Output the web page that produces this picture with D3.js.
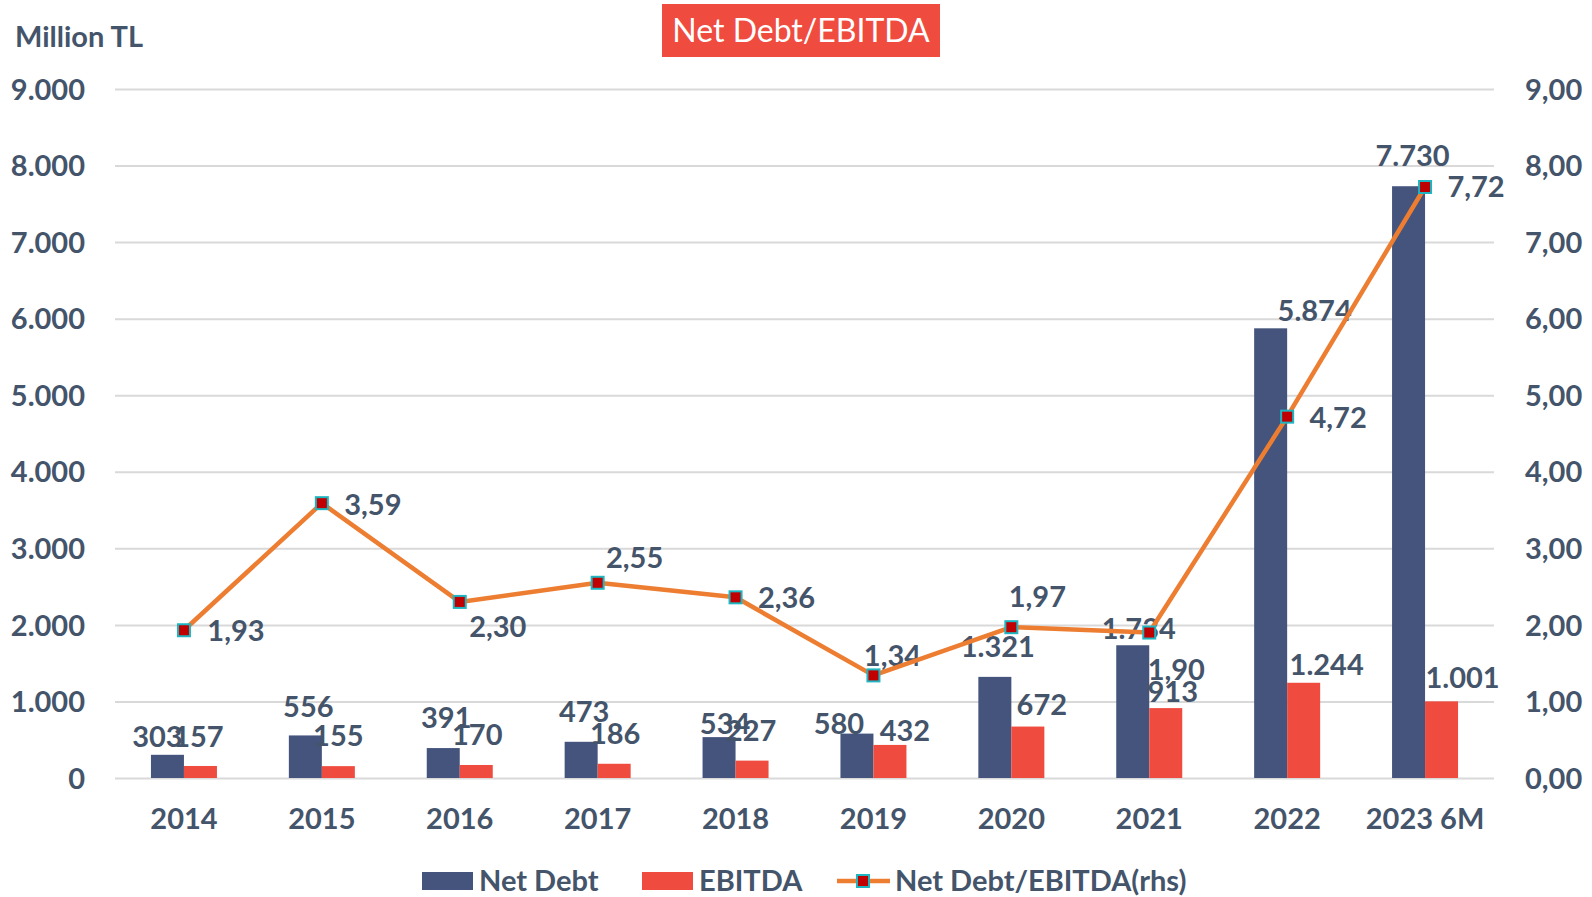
<!DOCTYPE html>
<html>
<head>
<meta charset="utf-8">
<script src="https://cdn.jsdelivr.net/npm/d3@7"></script>
<style>
  html, body { margin: 0; padding: 0; background: #ffffff; }
  svg { display: block; }
  text { font-family: Lato, "Open Sans", sans-serif; }
</style>
</head>
<body>
<svg id="chart" width="1592" height="897"></svg>
<script>
// Years / periods on the x axis
const categories = ["2014", "2015", "2016", "2017", "2018", "2019", "2020", "2021", "2022", "2023 6M"];
// Million TL
const netDebt = [303, 556, 391, 473, 534, 580, 1321, 1734, 5874, 7730];
const ebitda  = [157, 155, 170, 186, 227, 432, 672, 913, 1244, 1001];
// Net Debt / EBITDA multiple (right axis)
const ratio   = [1.93, 3.59, 2.30, 2.55, 2.36, 1.34, 1.97, 1.90, 4.72, 7.72];
// Axis ticks
const leftTicks  = [0, 1000, 2000, 3000, 4000, 5000, 6000, 7000, 8000, 9000];
const rightTicks = [0, 1, 2, 3, 4, 5, 6, 7, 8, 9];

// Hand placement of value labels (pixel nudges, label centre relative to bar top / marker)
const ndLabelDx = [-10, 3, 3, 3, 6, -18, 3, 6, 44, 4];
const ndLabelDy = [18, 29, 30, 30, 13, 10, 30, 16, 17, 30];
const ebLabelDx = [-2, 0, 1, 1, -1, 15, 14, 7, 23, 21];
const ebLabelDy = [29, 30, 30, 30, 30, 14, 22, 16, 18, 24];
const ratioLabelDx = [52, 51, 38, 37, 51, 19, 26, 27, 51, 51];
const ratioLabelDy = [1, 2, 25, -25, 1, -20, -30, 37, 1, 0];

const C_TEXT = "#44546A";
const C_ND = "#44547C";
const C_EB = "#F04B3F";
const C_LINE = "#ED7D31";
const C_MARK = "#C00000";
const C_MARK_EDGE = "#1FB5C0";
const C_GRID = "#D9D9D9";
const FS = 29;

const svg = d3.select("#chart");
const plot = { left: 115, right: 1494, top: 89, bottom: 778 };

const x = d3.scaleBand().domain(categories).range([plot.left, plot.right]).paddingInner(0).paddingOuter(0);
const yL = d3.scaleLinear().domain([0, 9000]).range([plot.bottom, plot.top]);
const yR = d3.scaleLinear().domain([0, 9]).range([plot.bottom, plot.top]);
const barW = 33;

const locale = d3.formatLocale({ decimal: ",", thousands: ".", grouping: [3], currency: ["", ""] });
const fmtInt = locale.format(",d");
const fmtRatio = locale.format(".2f");

// Gridlines and left axis labels
const leftAxis = d3.axisLeft(yL).tickValues(leftTicks).tickSize(-(plot.right - plot.left)).tickPadding(30).tickFormat(fmtInt);
const gL = svg.append("g").attr("transform", `translate(${plot.left},0)`).call(leftAxis);
gL.select(".domain").remove();
gL.selectAll(".tick line").attr("stroke", C_GRID).attr("stroke-width", 2);
gL.selectAll(".tick text")
  .attr("fill", C_TEXT).attr("font-size", FS).attr("font-weight", 700)
  .attr("x", -30).attr("dy", "0.35em").attr("text-anchor", "end");

// Right axis labels
const rightAxis = d3.axisRight(yR).tickValues(rightTicks).tickSize(0).tickPadding(31).tickFormat(fmtRatio);
const gR = svg.append("g").attr("transform", `translate(${plot.right},0)`).call(rightAxis);
gR.select(".domain").remove();
gR.selectAll(".tick text")
  .attr("fill", C_TEXT).attr("font-size", FS).attr("font-weight", 700).attr("dy", "0.35em");

// Category labels
const xAxis = d3.axisBottom(x).tickSize(0).tickPadding(30);
const gX = svg.append("g").attr("transform", `translate(0,${plot.bottom})`).call(xAxis);
gX.select(".domain").remove();
gX.selectAll(".tick text")
  .attr("fill", C_TEXT).attr("font-size", FS).attr("font-weight", 700);

// Bars
const barsG = svg.append("g");
barsG.selectAll("rect.nd").data(netDebt).join("rect")
  .attr("class", "nd")
  .attr("x", (d, i) => x(categories[i]) + x.bandwidth() / 2 - barW)
  .attr("y", d => yL(d))
  .attr("width", barW)
  .attr("height", d => yL(0) - yL(d))
  .attr("fill", C_ND);
barsG.selectAll("rect.eb").data(ebitda).join("rect")
  .attr("class", "eb")
  .attr("x", (d, i) => x(categories[i]) + x.bandwidth() / 2)
  .attr("y", d => yL(d))
  .attr("width", barW)
  .attr("height", d => yL(0) - yL(d))
  .attr("fill", C_EB);

// Bar value labels
const lblG = svg.append("g")
  .attr("fill", C_TEXT).attr("font-size", FS).attr("font-weight", 700).attr("text-anchor", "middle");
lblG.selectAll("text.nd").data(netDebt).join("text")
  .attr("class", "nd")
  .attr("x", (d, i) => x(categories[i]) + x.bandwidth() / 2 - barW / 2 + ndLabelDx[i])
  .attr("y", (d, i) => yL(d) - ndLabelDy[i])
  .attr("dy", "0.35em")
  .text(d => fmtInt(d));
lblG.selectAll("text.eb").data(ebitda).join("text")
  .attr("class", "eb")
  .attr("x", (d, i) => x(categories[i]) + x.bandwidth() / 2 + barW / 2 + ebLabelDx[i])
  .attr("y", (d, i) => yL(d) - ebLabelDy[i])
  .attr("dy", "0.35em")
  .text(d => fmtInt(d));

// Ratio line with square markers
const cx = (d, i) => x(categories[i]) + x.bandwidth() / 2;
const line = d3.line().x((d, i) => cx(d, i)).y(d => yR(d));
svg.append("path").datum(ratio)
  .attr("d", line)
  .attr("fill", "none").attr("stroke", C_LINE).attr("stroke-width", 4.5).attr("stroke-linejoin", "round");
const ms = 12;
svg.append("g").selectAll("rect").data(ratio).join("rect")
  .attr("x", (d, i) => cx(d, i) - ms / 2)
  .attr("y", d => yR(d) - ms / 2)
  .attr("width", ms).attr("height", ms)
  .attr("fill", C_MARK).attr("stroke", C_MARK_EDGE).attr("stroke-width", 2);
lblG.selectAll("text.ratio").data(ratio).join("text")
  .attr("class", "ratio")
  .attr("x", (d, i) => cx(d, i) + ratioLabelDx[i])
  .attr("y", (d, i) => yR(d) + ratioLabelDy[i])
  .attr("dy", "0.35em")
  .text(d => fmtRatio(d));

// Unit caption
svg.append("text").attr("x", 15).attr("y", 37).attr("dy", "0.35em")
  .attr("fill", C_TEXT).attr("font-size", FS).attr("font-weight", 700)
  .text("Million TL");

// Title badge
const title = svg.append("g");
title.append("rect").attr("x", 662).attr("y", 4).attr("width", 278).attr("height", 53).attr("fill", C_EB);
title.append("text").attr("x", 801).attr("y", 31).attr("dy", "0.35em")
  .attr("text-anchor", "middle").attr("fill", "#ffffff").attr("font-size", 32)
  .text("Net Debt/EBITDA");

// Legend
const leg = svg.append("g").attr("fill", C_TEXT).attr("font-size", FS).attr("font-weight", 700);
const ly = 881;
leg.append("rect").attr("x", 422).attr("y", ly - 9).attr("width", 51).attr("height", 18).attr("fill", C_ND);
leg.append("text").attr("x", 479).attr("y", ly).attr("dy", "0.35em").text("Net Debt");
leg.append("rect").attr("x", 642).attr("y", ly - 9).attr("width", 51).attr("height", 18).attr("fill", C_EB);
leg.append("text").attr("x", 699).attr("y", ly).attr("dy", "0.35em").text("EBITDA");
leg.append("line").attr("x1", 837).attr("x2", 890).attr("y1", ly).attr("y2", ly)
  .attr("stroke", C_LINE).attr("stroke-width", 4.5);
leg.append("rect").attr("x", 863 - ms / 2).attr("y", ly - ms / 2).attr("width", ms).attr("height", ms)
  .attr("fill", C_MARK).attr("stroke", C_MARK_EDGE).attr("stroke-width", 2);
leg.append("text").attr("x", 895).attr("y", ly).attr("dy", "0.35em").text("Net Debt/EBITDA(rhs)");
</script>
</body>
</html>
